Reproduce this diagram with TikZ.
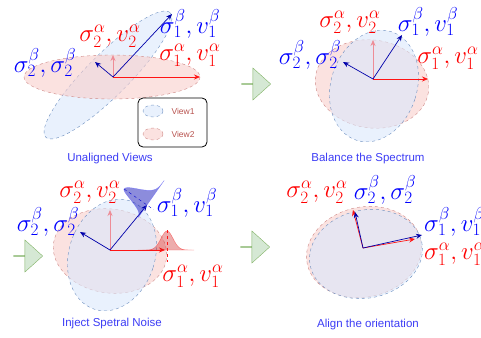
\documentclass[tikz,border=0pt]{standalone}
\usepackage{fontspec}
\setsansfont{Liberation Sans}
\usepackage{tikz}
\usetikzlibrary{calc, positioning, arrows.meta, shapes.arrows}
\definecolor{viewA}{RGB}{218, 232, 252}
\definecolor{viewAline}{RGB}{108, 142, 191}
\definecolor{viewB}{RGB}{248, 206, 204}
\definecolor{viewBline}{RGB}{184, 84, 80}
\definecolor{vecA}{RGB}{0, 0, 170}
\definecolor{vecB}{RGB}{255, 20, 20}
\definecolor{vecBup}{RGB}{238, 140, 150}
\definecolor{capBlue}{RGB}{60, 60, 245}
\definecolor{stepGreen}{RGB}{213, 232, 212}
\definecolor{stepGreenLine}{RGB}{130, 179, 102}

\begin{document}
\begin{tikzpicture}[x=1pt, y=-1pt, >={Stealth[length=6pt, width=5pt]},
    viewone/.style={draw=viewAline, dashed, fill=viewA, fill opacity=0.6},
    viewtwo/.style={draw=viewBline!70, dashed, fill=viewB, fill opacity=0.6},
    bvec/.style={->, vecA, line width=0.7pt},
    rvec/.style={->, vecB, line width=0.7pt},
    rup/.style={->, vecBup, line width=0.7pt},
    blab/.style={text=blue, font=\fontsize{23}{26}\selectfont, inner sep=0pt},
    rlab/.style={text=red, font=\fontsize{23}{26}\selectfont, inner sep=0pt},
    caption/.style={text=capBlue, font=\sffamily\fontsize{11.5}{13}\selectfont},
    stepbox/.style={single arrow, draw=stepGreenLine, fill=stepGreen, inner sep=0pt,
      minimum height=29pt, minimum width=32pt, single arrow head extend=10pt,
      single arrow tip angle=84}]
  \useasboundingbox (0,0) rectangle (481,337);

  % unaligned views
  \coordinate (o1) at (113,77);
  \draw[viewone, rotate around={45:(108,75)}] (108,75) ellipse (88 and 21);
  \draw[viewtwo] (112,77) ellipse (88 and 22);
  \coordinate (r1) at (200,77);
  \coordinate (u1) at (113,55);
  \coordinate (b1) at (172,14);
  \coordinate (c1) at (95,62);
  \draw[rvec] (o1) -- (r1);
  \draw[rup] (o1) -- (u1);
  \draw[bvec] (o1) -- (b1);
  \draw[bvec] (o1) -- (c1);
  \node[rlab] (l1a) at (110,36) {$\sigma_2^\alpha, v_2^\alpha$};
  \node[blab] (l1b) at (190,24) {$\sigma_1^\beta, v_1^\beta$};
  \node[rlab] (l1c) at (190,55) {$\sigma_1^\alpha, v_1^\alpha$};
  \node[blab] (l1d) at (45,63) {$\sigma_2^\beta, \sigma_2^\beta$};
  \draw[rounded corners=5pt, line width=0.8pt] (138,98) rectangle (207,147);
  \draw[viewone] (153,111) ellipse (10 and 6);
  \draw[viewtwo] (153,134) ellipse (10 and 6);
  \node[text=viewBline, font=\sffamily\fontsize{8.5}{10}\selectfont] (k1) at (183,111) {View1};
  \node[text=viewBline, font=\sffamily\fontsize{8.5}{10}\selectfont] (k2) at (183,134) {View2};
  \node[caption] (t1) at (110,159) {Unaligned Views};

  % balance the spectrum
  \node[stepbox] (g2) at (256,84) {};
  \coordinate (o2) at (373,79);
  \draw[viewtwo, rotate around={-8:(372,84)}] (372,84) ellipse (57 and 44);
  \draw[viewone, rotate around={-18:(374,86)}] (374,86) ellipse (43 and 57);
  \coordinate (r2) at (428,79);
  \coordinate (u2) at (373,40);
  \coordinate (b2) at (402,35);
  \coordinate (c2) at (343,62);
  \draw[rvec] (o2) -- (r2);
  \draw[rup] (o2) -- (u2);
  \draw[bvec] (o2) -- (b2);
  \draw[bvec] (o2) -- (c2);
  \node[rlab] (l2a) at (350,22) {$\sigma_2^\alpha, v_2^\alpha$};
  \node[blab] (l2b) at (428,22) {$\sigma_1^\beta, v_1^\beta$};
  \node[rlab] (l2c) at (448,58) {$\sigma_1^\alpha, v_1^\alpha$};
  \node[blab] (l2d) at (310,55) {$\sigma_2^\beta, \sigma_2^\beta$};
  \node[caption] (t2) at (368,159) {Balance the Spectrum};

  % inject spectral noise
  \node[stepbox] (g3) at (28,256) {};
  \coordinate (o3) at (110,250);
  \draw[viewtwo, rotate around={-8:(110,251)}] (110,251) ellipse (57 and 42);
  \draw[viewone, rotate around={-18:(112,255)}] (112,255) ellipse (43 and 57);
  \coordinate (r3) at (165,250);
  \coordinate (u3) at (110,210);
  \coordinate (b3) at (147,205);
  \coordinate (c3) at (80,232);
  \draw[rvec] (o3) -- (r3);
  \draw[rup] (o3) -- (u3);
  \draw[bvec] (o3) -- (b3);
  \draw[bvec] (o3) -- (c3);
  \fill[vecB!80!black, fill opacity=0.35, draw=vecB, draw opacity=0.5]
    (138,250) -- plot[domain=138:194, samples=50, smooth] (\x, {250-19*exp(-((\x-167)/8.5)^2)}) -- cycle;
  \draw[vecB, dashed] (167,230) -- (167,262);
  \begin{scope}[shift={(b3)}, rotate=55]
    \fill[blue!70!black, fill opacity=0.45, draw=blue!60, draw opacity=0.6]
      (-15,0) -- plot[domain=-15:0, samples=20, smooth] (\x, {-28*exp(-(\x/7)^2)})
      -- plot[domain=0:30, samples=30, smooth] (\x, {-28*exp(-(\x/11)^2)}) -- cycle;
    \draw[blue!80!black, dashed] (0,-28) -- (0,8);
  \end{scope}
  \node[rlab] (l3a) at (90,192) {$\sigma_2^\alpha, v_2^\alpha$};
  \node[blab] (l3b) at (187,203) {$\sigma_1^\beta, v_1^\beta$};
  \node[rlab] (l3c) at (193,276) {$\sigma_1^\alpha, v_1^\alpha$};
  \node[blab] (l3d) at (48,222) {$\sigma_2^\beta, \sigma_2^\beta$};
  \node[caption] (t3) at (112,324) {Inject Spetral Noise};

  % align the orientation
  \node[stepbox] (g4) at (255,247) {};
  \coordinate (o4) at (363,248);
  \draw[viewtwo, rotate around={12:(364,252)}] (364,252) ellipse (58 and 45);
  \draw[viewone, rotate around={12:(366,254)}] (366,254) ellipse (57 and 44);
  \coordinate (r4) at (415,239);
  \coordinate (b4) at (422,235);
  \coordinate (u4) at (353,210);
  \coordinate (c4) at (355,212);
  \draw[rvec] (o4) -- (r4);
  \draw[rvec] (o4) -- (u4);
  \draw[bvec] (o4) -- (b4);
  \draw[bvec] (o4) -- (c4);
  \node[rlab] (l4a) at (317,192) {$\sigma_2^\alpha, v_2^\alpha$};
  \node[blab] (l4b) at (385,190) {$\sigma_2^\beta, \sigma_2^\beta$};
  \node[blab, anchor=west] (l4c) at (424,222) {$\sigma_1^\beta, v_1^\beta$};
  \node[rlab, anchor=west] (l4d) at (424,254) {$\sigma_1^\alpha, v_1^\alpha$};
  \node[caption] (t4) at (368,325) {Align the orientation};
\end{tikzpicture}
\end{document}
